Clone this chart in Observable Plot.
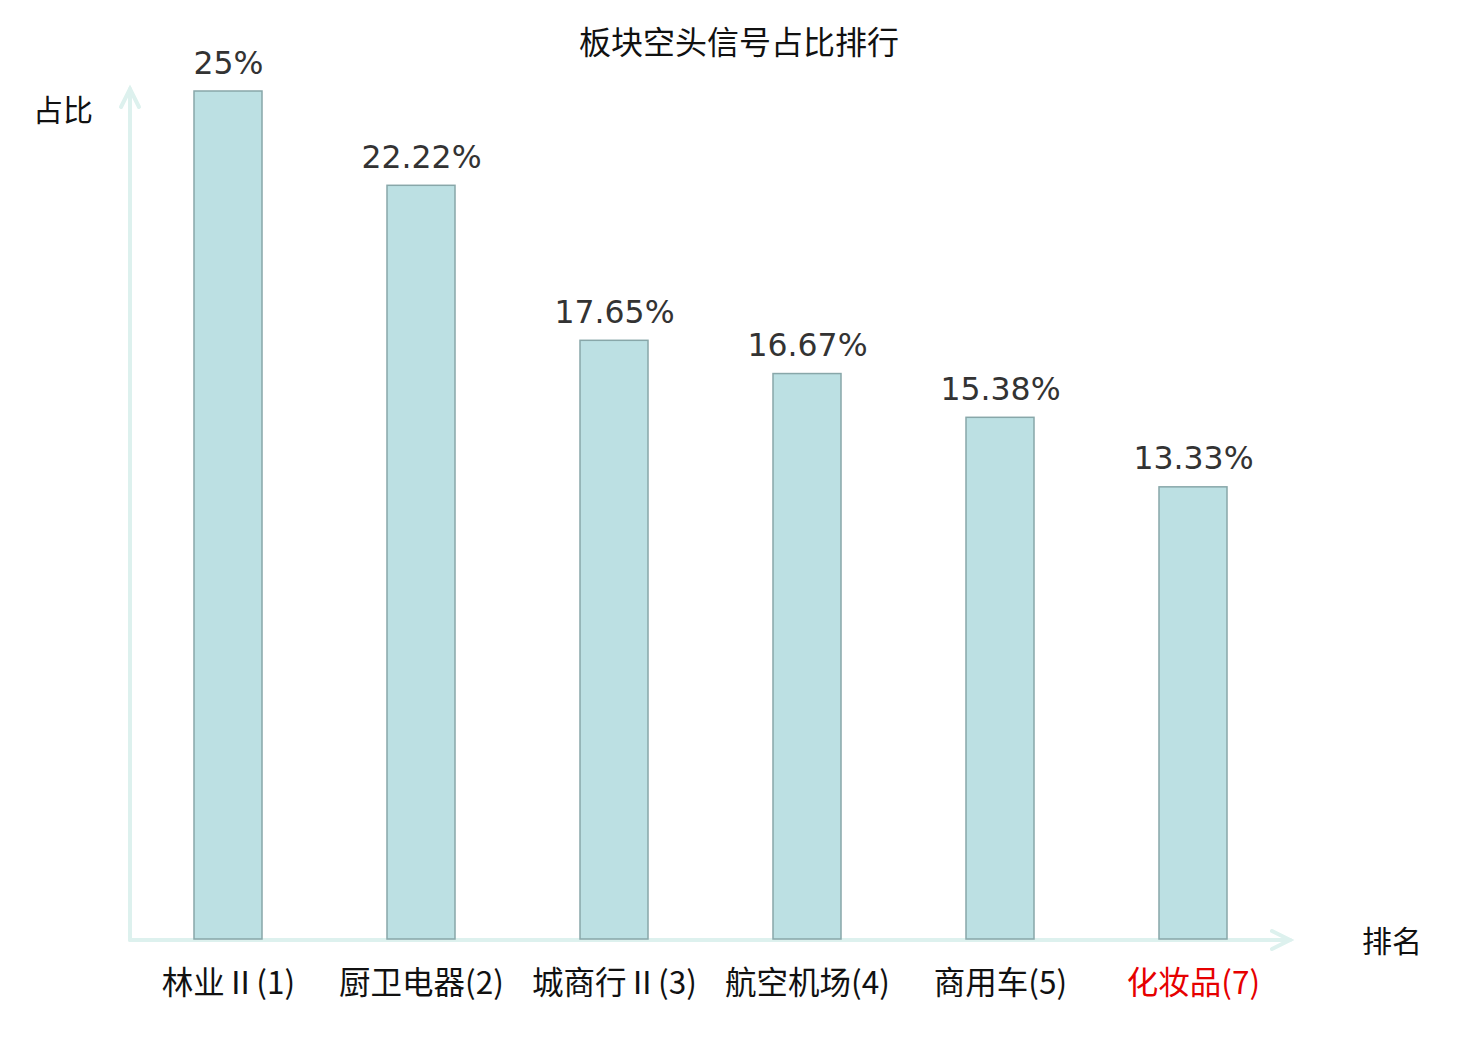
<!DOCTYPE html>
<html>
<head>
<meta charset="utf-8">
<script src="https://cdn.jsdelivr.net/npm/d3@7"></script>
<script src="https://cdn.jsdelivr.net/npm/@observablehq/plot@0.6"></script>
<style>
  html, body { margin: 0; padding: 0; background: #fff; }
  #chart svg { display: block; }
</style>
</head>
<body>
<div id="chart"></div>
<script>
const categories = ["林业Ⅱ(1)", "厨卫电器(2)", "城商行Ⅱ(3)", "航空机场(4)", "商用车(5)", "化妆品(7)"];
const values = [25, 22.22, 17.65, 16.67, 15.38, 13.33];
const highlighted = ["化妆品(7)"];
const title = "板块空头信号占比排行";
const yAxisLabel = "占比";
const xAxisLabel = "排名";

const data = categories.map((name, i) => ({name, value: values[i]}));

const W = 1480, H = 1040;
const mL = 130, mR = 190, mT = 91, mB = 101;
const axisColor = "#ddf1ee";
const cjk = "'Noto Sans CJK SC', 'DejaVu Sans', sans-serif";
const latin = "'DejaVu Sans', 'Noto Sans CJK SC', sans-serif";

const plot = Plot.plot({
  width: W,
  height: H,
  marginLeft: mL,
  marginRight: mR,
  marginTop: mT,
  marginBottom: mB,
  style: {background: "#fff", overflow: "visible"},
  x: {domain: categories, paddingInner: 0.65, paddingOuter: 0.325, axis: null},
  y: {domain: [0, 25], axis: null},
  color: {type: "identity"},
  marks: [
    Plot.barY(data, {x: "name", y: "value", fill: "#bce0e3", stroke: "#88a7a9", strokeWidth: 1.5}),
    Plot.text(data, {
      x: "name", y: "value", text: d => `${d.value}%`,
      lineAnchor: "bottom", dy: -18, fontSize: 31.5, fill: "#333333",
      fontFamily: latin
    }),
    Plot.text(data, {
      x: "name", frameAnchor: "bottom", text: "name",
      lineAnchor: "bottom", dy: 54, fontSize: 31.5, fontWeight: 400,
      fill: d => highlighted.includes(d.name) ? "#e60000" : "#111111",
      fontFamily: cjk
    })
  ]
});

const svg = d3.select(plot);
const x0 = mL, yBase = H - mB + 1, yTop = 89, xEnd = W - mR;
const g = svg.append("g").attr("fill", "none").attr("stroke", axisColor).attr("stroke-width", 4).attr("stroke-linecap", "round");
g.append("path").attr("d", `M${x0},${yBase}V${yTop}`);
g.append("path").attr("d", `M${x0 - 9},${yTop + 18}L${x0},${yTop}L${x0 + 9},${yTop + 18}`);
g.append("path").attr("d", `M${x0},${yBase}H${xEnd}`);
g.append("path").attr("d", `M${xEnd - 18},${yBase - 9}L${xEnd},${yBase}L${xEnd - 18},${yBase + 9}`);
// keep axes behind bars
svg.node().insertBefore(g.node(), svg.node().firstChild.nextSibling);

const t = svg.append("g").attr("font-family", cjk).attr("fill", "#111").attr("text-anchor", "middle");
t.append("text").attr("x", 739).attr("y", 54).attr("font-size", 32).text(title);
t.append("text").attr("x", 63).attr("y", 121).attr("font-size", 30).text(yAxisLabel);
t.append("text").attr("x", 1392).attr("y", 952).attr("font-size", 30).text(xAxisLabel);

document.getElementById("chart").append(plot);
</script>
</body>
</html>
